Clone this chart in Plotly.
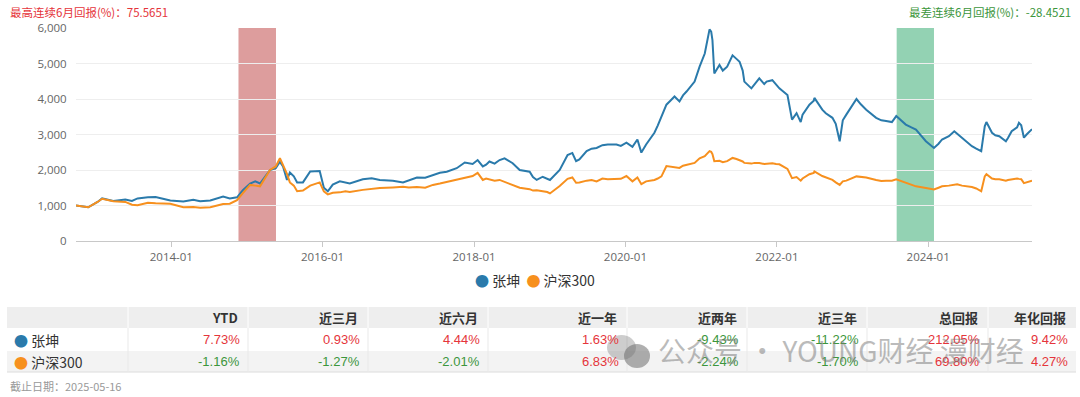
import plotly.graph_objects as go

# ---------------- data ----------------
dates = [
    "2012-09-28", "2012-11-26", "2013-01-10", "2013-02-01", "2013-03-27", "2013-05-24", "2013-06-25",
    "2013-07-22", "2013-09-10", "2013-10-17", "2013-12-27", "2014-02-28", "2014-04-17", "2014-05-20",
    "2014-07-08", "2014-09-08", "2014-10-10", "2014-11-14", "2014-12-12", "2015-01-16", "2015-02-10",
    "2015-03-05", "2015-04-22", "2015-05-20", "2015-06-09", "2015-06-24", "2015-07-13", "2015-07-27",
    "2015-08-15", "2015-08-31", "2015-09-28", "2015-11-02", "2015-12-18", "2016-01-07", "2016-01-26",
    "2016-02-19", "2016-03-24", "2016-04-20", "2016-05-11", "2016-07-13", "2016-08-25", "2016-10-03",
    "2016-12-05", "2017-01-23", "2017-02-20", "2017-03-31", "2017-05-10", "2017-06-16", "2017-07-20",
    "2017-08-22", "2017-10-09", "2017-11-17", "2017-12-25", "2018-01-18", "2018-02-12", "2018-02-28",
    "2018-03-16", "2018-04-10", "2018-05-04", "2018-05-28", "2018-06-20", "2018-07-06", "2018-08-09",
    "2018-09-26", "2018-10-12", "2018-10-30", "2018-11-28", "2018-12-20", "2019-01-02", "2019-02-18",
    "2019-03-28", "2019-04-20", "2019-05-08", "2019-05-24", "2019-06-28", "2019-07-22", "2019-08-15",
    "2019-09-12", "2019-10-08", "2019-11-19", "2019-12-10", "2020-01-06", "2020-02-04", "2020-02-28",
    "2020-03-18", "2020-04-10", "2020-05-20", "2020-06-05", "2020-06-23", "2020-07-17", "2020-08-05",
    "2020-08-25", "2020-09-18", "2020-10-05", "2020-10-22", "2020-11-12", "2020-11-30", "2020-12-24",
    "2021-01-05", "2021-01-18", "2021-02-10", "2021-02-18", "2021-02-24", "2021-03-05", "2021-03-30",
    "2021-04-15", "2021-05-06", "2021-05-20", "2021-06-01", "2021-06-20", "2021-07-05", "2021-07-20",
    "2021-07-28", "2021-08-31", "2021-09-15", "2021-10-08", "2021-11-01", "2021-11-12", "2021-12-10",
    "2021-12-28", "2022-01-13", "2022-02-21", "2022-03-15", "2022-04-06", "2022-04-26", "2022-05-05",
    "2022-06-07", "2022-06-28", "2022-07-01", "2022-08-08", "2022-08-25", "2022-09-26", "2022-10-12",
    "2022-10-31", "2022-11-15", "2022-12-02", "2023-01-20", "2023-02-10", "2023-03-08", "2023-04-25",
    "2023-05-20", "2023-06-12", "2023-07-10", "2023-07-31", "2023-09-15", "2023-10-12", "2023-11-03",
    "2023-12-21", "2024-01-29", "2024-02-20", "2024-03-08", "2024-04-10", "2024-05-06", "2024-05-20",
    "2024-06-12", "2024-07-30", "2024-08-20", "2024-09-13", "2024-09-30", "2024-10-08", "2024-11-04",
    "2024-11-20", "2024-12-09", "2025-01-10", "2025-01-20", "2025-02-07", "2025-03-05", "2025-03-14",
    "2025-03-25", "2025-04-07", "2025-04-20", "2025-05-16",
]

zhangkun = [
    1000, 950, 1100, 1200, 1130, 1170, 1130,
    1200, 1230, 1240, 1140, 1110, 1160, 1120,
    1140, 1250, 1200, 1230, 1430, 1620, 1680,
    1620, 2000, 2050, 2230, 2100, 1720, 1930,
    1820, 1650, 1650, 1960, 1970, 1500, 1400,
    1590, 1680, 1640, 1620, 1740, 1770, 1720,
    1700, 1650, 1700, 1790, 1780, 1860, 1920,
    1950, 2050, 2210, 2170, 2280, 2100, 2150,
    2240, 2180, 2280, 2330, 2250, 2190, 2000,
    1950, 1800, 1720, 1810, 1760, 1720, 2000,
    2420, 2480, 2250, 2300, 2530, 2600, 2620,
    2700, 2720, 2720, 2680, 2770, 2650, 2860,
    2490, 2720, 3050, 3250, 3510, 3840, 3950,
    4070, 3930, 4100, 4210, 4350, 4490, 4910,
    5100, 5280, 5960, 5900, 5660, 4720, 4960,
    4800, 4910, 5080, 5230, 5130, 5050, 4800,
    4490, 4300, 4400, 4580, 4420, 4490, 4530,
    4420, 4300, 4110, 3420, 3600, 3350, 3560,
    3840, 3950, 4030, 3700, 3600, 3470, 3300,
    2810, 3400, 3560, 4000, 3850, 3700, 3470,
    3400, 3380, 3350, 3520, 3280, 3200, 3140,
    2810, 2620, 2740, 2860, 2950, 3090, 3020,
    2910, 2670, 2600, 2530, 3230, 3350, 3050,
    2980, 2950, 2810, 2900, 3090, 3200, 3330,
    3260, 2910, 3000, 3150,
]

hs300 = [
    1000, 950, 1100, 1190, 1120, 1100, 1020,
    1010, 1080, 1060, 1050, 950, 960, 940,
    950, 1040, 1050, 1150, 1350, 1580, 1560,
    1540, 2000, 2100, 2330, 2150, 1890, 1650,
    1560, 1400, 1420, 1560, 1650, 1400, 1310,
    1360, 1370, 1400, 1380, 1440, 1470, 1490,
    1510, 1530, 1510, 1520, 1500, 1580, 1620,
    1660, 1720, 1780, 1830, 1920, 1720, 1760,
    1740, 1700, 1720, 1670, 1620, 1580, 1500,
    1460, 1420, 1430, 1400, 1380, 1340, 1550,
    1750, 1790, 1640, 1650, 1700, 1720, 1680,
    1760, 1740, 1760, 1750, 1830, 1680, 1790,
    1600, 1680, 1720, 1760, 1820, 2110, 2090,
    2080, 2060, 2120, 2150, 2170, 2200, 2330,
    2360, 2390, 2530, 2510, 2450, 2250, 2260,
    2220, 2250, 2290, 2340, 2310, 2280, 2240,
    2200, 2180, 2200, 2200, 2170, 2180, 2190,
    2170, 2160, 2030, 1770, 1800, 1700, 1760,
    1880, 1920, 1960, 1830, 1790, 1720, 1650,
    1580, 1680, 1700, 1820, 1800, 1790, 1720,
    1690, 1700, 1700, 1740, 1650, 1600, 1540,
    1490, 1450, 1500, 1540, 1560, 1600, 1600,
    1560, 1520, 1480, 1400, 1820, 1880, 1760,
    1740, 1740, 1700, 1720, 1740, 1760, 1750,
    1740, 1630, 1650, 1700,
]

series_names = ["张坤", "沪深300"]
y_tick_values = [0, 1000, 2000, 3000, 4000, 5000, 6000]
x_range = ["2012-09-28", "2025-05-16"]

best_window = ["2014-11-21", "2015-05-21"]
worst_window = ["2023-08-02", "2024-01-29"]
best_6m_label = "最高连续6月回报(%)：75.5651"
worst_6m_label = "最差连续6月回报(%)：-28.4521"

table_headers = ["YTD", "近三月", "近六月", "近一年", "近两年", "近三年", "总回报", "年化回报"]
zk_returns = ["7.73%", "0.93%", "4.44%", "1.63%", "-9.43%", "-11.22%", "212.05%", "9.42%"]
hs_returns = ["-1.16%", "-1.27%", "-2.01%", "6.83%", "-2.24%", "-1.70%", "69.80%", "4.27%"]
as_of_label = "截止日期：2025-05-16"
watermark_label = "公众号 · YOUNG财经 漫财经"

# ---------------- styles ----------------
W, H = 1080, 397
PL, PR, PT, PB = 76, 1032, 28, 241
BLUE = "#2a7aab"
ORANGE = "#f7901e"
RED = "#e5353b"
GREEN = "#3c963c"
CJK = "Noto Sans CJK SC, Open Sans, sans-serif"
NUM = "Liberation Sans, Arial, sans-serif"


def px(x):
    return (x - PL) / (PR - PL)


def py(y):
    return (PB - y) / (PB - PT)


fig = go.Figure()
for name, vals, col in [(series_names[0], zhangkun, BLUE), (series_names[1], hs300, ORANGE)]:
    fig.add_trace(go.Scatter(x=dates, y=vals, mode="lines", name=name,
                             line=dict(color=col, width=2), showlegend=False))

shapes = []
# highlighted windows
shapes.append(dict(type="rect", xref="x", yref="paper", x0=best_window[0], x1=best_window[1],
                   y0=0, y1=1, fillcolor="#dd9d9d", line=dict(width=0), layer="below"))
shapes.append(dict(type="rect", xref="x", yref="paper", x0=worst_window[0], x1=worst_window[1],
                   y0=0, y1=1, fillcolor="#93d2b3", line=dict(width=0), layer="below"))

annotations = []
annotations.append(dict(text=best_6m_label, xref="paper", yref="paper", x=px(8), y=py(12),
                        xanchor="left", yanchor="middle", showarrow=False,
                        font=dict(family=CJK, size=11.5, color=RED)))
annotations.append(dict(text=worst_6m_label, xref="paper", yref="paper", x=px(1073), y=py(12),
                        xanchor="right", yanchor="middle", showarrow=False,
                        font=dict(family=CJK, size=11.5, color=GREEN)))
# legend
annotations.append(dict(
    text=f"<span style='color:{BLUE}'>●</span> {series_names[0]}  <span style='color:{ORANGE}'>●</span> {series_names[1]}",
    xref="paper", yref="paper", x=px(535), y=py(280), xanchor="center", yanchor="middle",
    showarrow=False, font=dict(family=CJK, size=14, color="#333")))

# ---------------- table ----------------
TL, TR = 7, 1076
row_tops = [307, 328, 351, 372]
col_right = [248, 368, 488, 627, 747, 867, 988, 1076]
col_left = [128] + col_right[:-1]
shapes.append(dict(type="rect", xref="paper", yref="paper", x0=px(TL), x1=px(TR),
                   y0=py(row_tops[0]), y1=py(row_tops[1]), fillcolor="#eeeeee", line=dict(width=0)))
shapes.append(dict(type="rect", xref="paper", yref="paper", x0=px(TL), x1=px(TR),
                   y0=py(row_tops[2]), y1=py(row_tops[3]), fillcolor="#f3f3f3", line=dict(width=0)))
shapes.append(dict(type="line", xref="paper", yref="paper", x0=px(TL), x1=px(TR),
                   y0=py(row_tops[3]), y1=py(row_tops[3]), line=dict(color="#dcdcdc", width=1)))
for xl in col_left:
    shapes.append(dict(type="line", xref="paper", yref="paper", x0=px(xl), x1=px(xl),
                       y0=py(row_tops[0]), y1=py(row_tops[1]), line=dict(color="#ffffff", width=1)))
    shapes.append(dict(type="line", xref="paper", yref="paper", x0=px(xl), x1=px(xl),
                       y0=py(row_tops[1]), y1=py(row_tops[3]), line=dict(color="#e9e9e9", width=1)))

row_mid = [(row_tops[i] + row_tops[i + 1]) / 2 for i in range(3)]
for hdr, xr in zip(table_headers, col_right):
    annotations.append(dict(text=f"<b>{hdr}</b>", xref="paper", yref="paper", x=px(xr - 8), y=py(row_mid[0]),
                            xanchor="right", yanchor="middle", showarrow=False,
                            font=dict(family=CJK, size=13, color="#333")))
for ri, (name, col, vals) in enumerate([(series_names[0], BLUE, zk_returns), (series_names[1], ORANGE, hs_returns)]):
    ym = row_mid[ri + 1]
    annotations.append(dict(text=f"<span style='color:{col}'>●</span> {name}", xref="paper", yref="paper",
                            x=px(12), y=py(ym), xanchor="left", yanchor="middle", showarrow=False,
                            font=dict(family=CJK, size=14, color="#333")))
    for v, xr in zip(vals, col_right):
        c = GREEN if v.startswith("-") else RED
        annotations.append(dict(text=v, xref="paper", yref="paper", x=px(xr - 6), y=py(ym),
                                xanchor="right", yanchor="middle", showarrow=False,
                                font=dict(family=NUM, size=13, color=c)))

annotations.append(dict(text=as_of_label, xref="paper", yref="paper", x=px(8), y=py(386),
                        xanchor="left", yanchor="middle", showarrow=False,
                        font=dict(family=CJK, size=11, color="#999")))

# watermark (overlay, as in the reference)
shapes.append(dict(type="circle", xref="paper", yref="paper", x0=px(607), x1=px(636),
                   y0=py(335), y1=py(360), fillcolor="rgba(130,130,130,0.4)", line=dict(width=0)))
shapes.append(dict(type="circle", xref="paper", yref="paper", x0=px(624), x1=px(650),
                   y0=py(344), y1=py(368), fillcolor="rgba(110,110,110,0.55)", line=dict(width=0)))
annotations.append(dict(text=watermark_label, xref="paper", yref="paper", x=px(656), y=py(350),
                        xanchor="left", yanchor="middle", showarrow=False,
                        font=dict(family=CJK, size=28, color="rgba(120,120,120,0.5)")))

fig.update_layout(
    template="none",
    width=W, height=H,
    margin=dict(l=PL, r=W - PR, t=PT, b=H - PB, pad=0),
    paper_bgcolor="white", plot_bgcolor="white",
    font=dict(family=CJK, size=12, color="#666"),
    showlegend=False,
    shapes=shapes,
    annotations=annotations,
    xaxis=dict(
        type="date", range=x_range, tickformat="%Y-%m", dtick="M24", tick0="2014-01-01",
        showgrid=False, showline=True, linecolor="#c8c8c8", linewidth=1,
        ticks="outside", ticklen=5, tickcolor="#c8c8c8",
        tickfont=dict(family="Open Sans, sans-serif", size=11.5, color="#666"), zeroline=False,
    ),
    yaxis=dict(
        range=[0, 6000], tickvals=y_tick_values, tickformat=",d",
        showgrid=True, gridcolor="#eeeeee", gridwidth=1, showline=False, zeroline=False,
        ticks="outside", ticklen=6, tickcolor="rgba(0,0,0,0)",
        tickfont=dict(family="Open Sans, sans-serif", size=11.5, color="#666"),
    ),
)

fig.write_html("out.html", config={"displayModeBar": False},
               post_script="document.body.style.margin='0';")
